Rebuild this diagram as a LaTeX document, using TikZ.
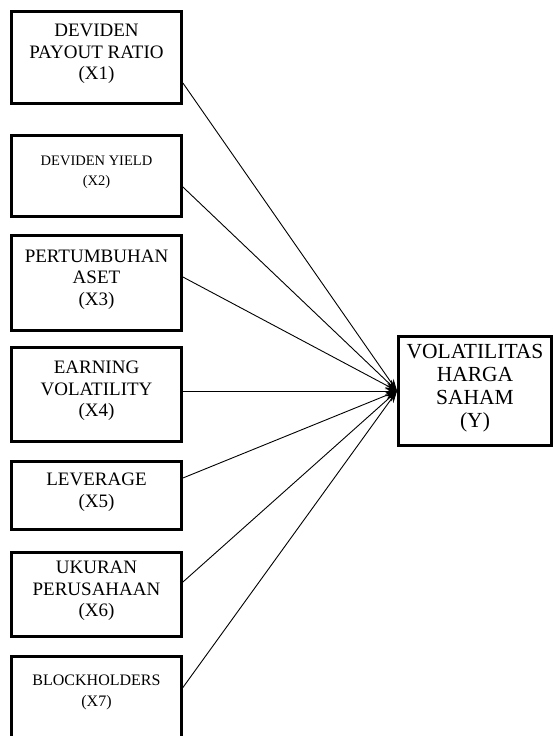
\documentclass[tikz,border=0pt]{standalone}
\usepackage{fontspec}
\setmainfont{Liberation Serif}
\usetikzlibrary{arrows.meta,positioning}

\begin{document}
\begin{tikzpicture}[x=1pt, y=-1pt,
            var/.style={rectangle, draw, line width=2.8pt, minimum width=170pt, inner sep=0pt, text depth=11pt, align=center, font=\fontsize{19}{21.5}\selectfont},
            smalltext/.style={font=\fontsize{14.5}{20}\selectfont},
            dep/.style={var, minimum width=153pt, minimum height=109pt, font=\fontsize{21.5}{23}\selectfont},
            link/.style={-{Stealth[length=12pt, width=8pt]}, line width=0.9pt}
        ]
            \useasboundingbox (0,0) rectangle (554,736);

            \node[var, minimum height=92pt] (x1) at (96.5,57.5) {DEVIDEN\\PAYOUT RATIO\\(X1)};
            \node[var, smalltext, minimum height=81pt] (x2) at (96.5,176) {DEVIDEN YIELD\\(X2)};
            \node[var, minimum height=95pt] (x3) at (96.5,283) {PERTUMBUHAN\\ASET\\(X3)};
            \node[var, minimum height=94pt] (x4) at (96.5,394.5) {EARNING\\VOLATILITY\\(X4)};
            \node[var, minimum height=68pt] (x5) at (96.5,495.5) {LEVERAGE\\(X5)};
            \node[var, minimum height=84pt] (x6) at (96.5,594.5) {UKURAN\\PERUSAHAAN\\(X6)};
            \node[var, font=\fontsize{16}{21}\selectfont, minimum height=104pt, text depth=36pt] (x7) at (96.5,708.5) {BLOCKHOLDERS\\(X7)};

            \node[dep] (y) at (475,391) {VOLATILITAS\\HARGA\\SAHAM\\(Y)};

            % Connectors
            \draw[link] ([yshift=-25.5pt]x1.east) -- (y.west);
            \draw[link] ([yshift=-11pt]x2.east) -- (y.west);
            \draw[link] ([yshift=6pt]x3.east) -- (y.west);
            \draw[link] ([yshift=3.5pt]x4.east) -- (y.west);
            \draw[link] ([yshift=17.5pt]x5.east) -- (y.west);
            \draw[link] ([yshift=12.5pt]x6.east) -- (y.west);
            \draw[link] ([yshift=21pt]x7.east) -- (y.west);
\end{tikzpicture}
\end{document}
